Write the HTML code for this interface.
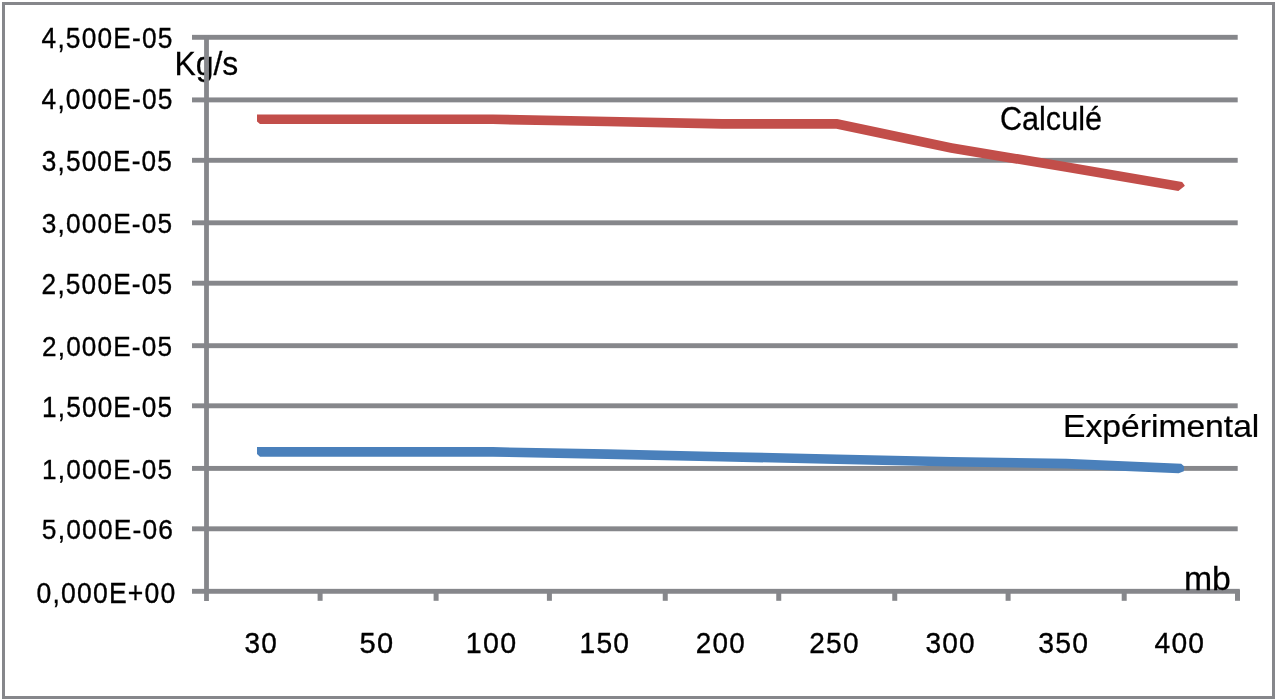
<!DOCTYPE html>
<html><head><meta charset="utf-8"><style>
html,body{margin:0;padding:0;background:#fff;}
body{width:1280px;height:699px;overflow:hidden;}
svg{display:block;will-change:transform;}
</style></head><body>
<svg width="1280" height="699" viewBox="0 0 1280 699">
<rect width="1280" height="699" fill="#fff"/>
<rect x="3.5" y="3.5" width="1270" height="694" fill="none" stroke="#86878b" stroke-width="3"/>
<text transform="translate(174.440,74.700) scale(0.31907,0.32571)" x="0" y="0" font-size="100" font-family="&quot;Liberation Sans&quot;, sans-serif" fill="#000" stroke="#000" stroke-width="0.8">Kg/s</text>
<rect x="192" y="34.85" width="1045.70" height="4.9" fill="#86878b"/>
<rect x="192" y="97.45" width="1045.70" height="4.9" fill="#86878b"/>
<rect x="192" y="157.85" width="1045.70" height="4.9" fill="#86878b"/>
<rect x="192" y="220.35" width="1045.70" height="4.9" fill="#86878b"/>
<rect x="192" y="280.75" width="1045.70" height="4.9" fill="#86878b"/>
<rect x="192" y="343.25" width="1045.70" height="4.9" fill="#86878b"/>
<rect x="192" y="403.35" width="1045.70" height="4.9" fill="#86878b"/>
<rect x="192" y="465.95" width="1045.70" height="4.9" fill="#86878b"/>
<rect x="192" y="526.35" width="1045.70" height="4.9" fill="#86878b"/>
<rect x="192" y="588.85" width="1047.80" height="4.9" fill="#86878b"/>
<rect x="204.1" y="35" width="4.8" height="566" fill="#86878b"/>
<rect x="317.60" y="590" width="5" height="10.8" fill="#86878b"/>
<rect x="433.60" y="590" width="5" height="10.8" fill="#86878b"/>
<rect x="546.90" y="590" width="5" height="10.8" fill="#86878b"/>
<rect x="662.75" y="590" width="5" height="10.8" fill="#86878b"/>
<rect x="776.25" y="590" width="5" height="10.8" fill="#86878b"/>
<rect x="892.25" y="590" width="5" height="10.8" fill="#86878b"/>
<rect x="1005.60" y="590" width="5" height="10.8" fill="#86878b"/>
<rect x="1121.70" y="590" width="5" height="10.8" fill="#86878b"/>
<rect x="1235.00" y="590" width="5" height="10.8" fill="#86878b"/>
<polygon points="260.00,124.10 257.00,121.50 257.00,114.50 378.10,114.50 492.80,114.50 607.42,116.70 722.05,119.10 837.25,119.10 952.31,143.28 1066.95,162.27 1182.15,181.95 1184.79,185.50 1184.35,186.29 1178.37,191.05 1065.35,171.73 950.54,152.72 836.25,128.70 721.95,128.70 607.23,126.30 492.70,124.10 378.10,124.10" fill="#c24e4a"/>
<polygon points="260.00,456.70 257.00,454.10 257.00,447.10 378.10,447.10 492.80,447.10 607.43,449.30 722.11,451.90 836.85,454.40 951.52,456.90 1066.29,458.80 1181.21,463.81 1184.06,466.14 1183.84,471.13 1178.69,473.31 1066.01,468.40 951.33,466.50 836.65,464.00 721.89,461.50 607.22,458.90 492.70,456.70 378.10,456.70" fill="#4a80bb"/>
<text transform="translate(41.582,47.518) scale(0.26279,0.29155)" x="0" y="0" font-size="100" font-family="&quot;Liberation Sans&quot;, sans-serif" fill="#000" stroke="#000" stroke-width="1.2" letter-spacing="4.5">4,500E-05</text>
<text transform="translate(41.582,108.618) scale(0.26279,0.29155)" x="0" y="0" font-size="100" font-family="&quot;Liberation Sans&quot;, sans-serif" fill="#000" stroke="#000" stroke-width="1.2" letter-spacing="4.5">4,000E-05</text>
<text transform="translate(41.752,170.721) scale(0.26170,0.28863)" x="0" y="0" font-size="100" font-family="&quot;Liberation Sans&quot;, sans-serif" fill="#000" stroke="#000" stroke-width="1.2" letter-spacing="4.5">3,500E-05</text>
<text transform="translate(41.695,232.525) scale(0.26225,0.28426)" x="0" y="0" font-size="100" font-family="&quot;Liberation Sans&quot;, sans-serif" fill="#000" stroke="#000" stroke-width="1.2" letter-spacing="4.5">3,000E-05</text>
<text transform="translate(41.619,293.772) scale(0.26237,0.28790)" x="0" y="0" font-size="100" font-family="&quot;Liberation Sans&quot;, sans-serif" fill="#000" stroke="#000" stroke-width="1.2" letter-spacing="4.5">2,500E-05</text>
<text transform="translate(42.006,355.625) scale(0.26134,0.28499)" x="0" y="0" font-size="100" font-family="&quot;Liberation Sans&quot;, sans-serif" fill="#000" stroke="#000" stroke-width="1.2" letter-spacing="4.5">2,000E-05</text>
<text transform="translate(42.027,416.622) scale(0.26155,0.28790)" x="0" y="0" font-size="100" font-family="&quot;Liberation Sans&quot;, sans-serif" fill="#000" stroke="#000" stroke-width="1.2" letter-spacing="4.5">1,500E-05</text>
<text transform="translate(42.027,478.625) scale(0.26155,0.28499)" x="0" y="0" font-size="100" font-family="&quot;Liberation Sans&quot;, sans-serif" fill="#000" stroke="#000" stroke-width="1.2" letter-spacing="4.5">1,000E-05</text>
<text transform="translate(41.852,538.527) scale(0.26379,0.28280)" x="0" y="0" font-size="100" font-family="&quot;Liberation Sans&quot;, sans-serif" fill="#000" stroke="#000" stroke-width="1.2" letter-spacing="4.5">5,000E-06</text>
<text transform="translate(36.569,602.765) scale(0.26560,0.29519)" x="0" y="0" font-size="100" font-family="&quot;Liberation Sans&quot;, sans-serif" fill="#000" stroke="#000" stroke-width="1.2" letter-spacing="4.5">0,000E+00</text>
<text transform="translate(244.393,652.614) scale(0.27976,0.29592)" x="0" y="0" font-size="100" font-family="&quot;Liberation Sans&quot;, sans-serif" fill="#000" stroke="#000" stroke-width="1.2" letter-spacing="4.5">30</text>
<text transform="translate(359.466,652.614) scale(0.29060,0.29592)" x="0" y="0" font-size="100" font-family="&quot;Liberation Sans&quot;, sans-serif" fill="#000" stroke="#000" stroke-width="1.2" letter-spacing="4.5">50</text>
<text transform="translate(465.728,652.614) scale(0.28648,0.29592)" x="0" y="0" font-size="100" font-family="&quot;Liberation Sans&quot;, sans-serif" fill="#000" stroke="#000" stroke-width="1.2" letter-spacing="4.5">100</text>
<text transform="translate(579.507,652.614) scale(0.28176,0.29592)" x="0" y="0" font-size="100" font-family="&quot;Liberation Sans&quot;, sans-serif" fill="#000" stroke="#000" stroke-width="1.2" letter-spacing="4.5">150</text>
<text transform="translate(695.727,652.614) scale(0.27873,0.29592)" x="0" y="0" font-size="100" font-family="&quot;Liberation Sans&quot;, sans-serif" fill="#000" stroke="#000" stroke-width="1.2" letter-spacing="4.5">200</text>
<text transform="translate(809.214,652.614) scale(0.28045,0.29592)" x="0" y="0" font-size="100" font-family="&quot;Liberation Sans&quot;, sans-serif" fill="#000" stroke="#000" stroke-width="1.2" letter-spacing="4.5">250</text>
<text transform="translate(925.392,652.614) scale(0.28030,0.29592)" x="0" y="0" font-size="100" font-family="&quot;Liberation Sans&quot;, sans-serif" fill="#000" stroke="#000" stroke-width="1.2" letter-spacing="4.5">300</text>
<text transform="translate(1038.253,652.614) scale(0.28330,0.29592)" x="0" y="0" font-size="100" font-family="&quot;Liberation Sans&quot;, sans-serif" fill="#000" stroke="#000" stroke-width="1.2" letter-spacing="4.5">350</text>
<text transform="translate(1154.415,652.614) scale(0.28220,0.29592)" x="0" y="0" font-size="100" font-family="&quot;Liberation Sans&quot;, sans-serif" fill="#000" stroke="#000" stroke-width="1.2" letter-spacing="4.5">400</text>
<text transform="translate(999.970,129.635) scale(0.30597,0.34060)" x="0" y="0" font-size="100" font-family="&quot;Liberation Sans&quot;, sans-serif" fill="#000" stroke="#000" stroke-width="0.8">Calculé</text>
<text transform="translate(1063.059,436.700) scale(0.33634,0.31143)" x="0" y="0" font-size="100" font-family="&quot;Liberation Sans&quot;, sans-serif" fill="#000" stroke="#000" stroke-width="0.8">Expérimental</text>
<text transform="translate(1183.927,590.200) scale(0.33800,0.32475)" x="0" y="0" font-size="100" font-family="&quot;Liberation Sans&quot;, sans-serif" fill="#000" stroke="#000" stroke-width="0.8">mb</text>
</svg>
</body></html>
